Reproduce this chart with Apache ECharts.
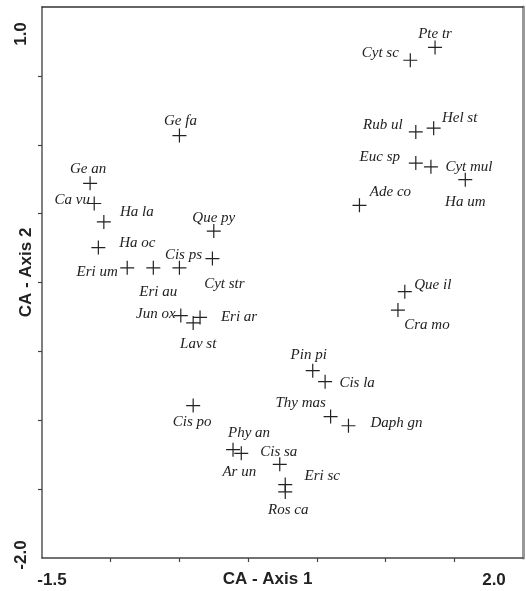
<!DOCTYPE html>
<html>
<head>
<meta charset="utf-8">
<script src="https://cdn.jsdelivr.net/npm/echarts@6/dist/echarts.min.js"></script>
<style>
html,body{margin:0;padding:0;background:#fff;}
#chart{width:526px;height:591px;}
</style>
</head>
<body>
<div id="chart"></div>
<script>
// Species labels
const names = ["Ge fa","Ge an","Ca vu","Ha la","Ha oc","Eri um","Eri au","Cis ps","Cyt str","Que py",
  "Jun ox","Eri ar","Lav st","Cis po","Phy an","Ar un","Cis sa","Eri sc","Ros ca","Pin pi",
  "Cis la","Thy mas","Daph gn","Cra mo","Que il","Ade co","Euc sp","Cyt mul","Ha um","Rub ul",
  "Hel st","Cyt sc","Pte tr"];
// CA axis 1 scores
const axis1 = [-0.50,-1.15,-1.12,-1.05,-1.09,-0.88,-0.69,-0.50,-0.26,-0.25,
  -0.49,-0.35,-0.40,-0.40,-0.11,-0.05,0.23,0.27,0.27,0.47,
  0.56,0.60,0.73,1.09,1.14,0.81,1.22,1.33,1.58,1.22,
  1.35,1.18,1.36];
// CA axis 2 scores
const axis2 = [0.30,0.04,-0.07,-0.17,-0.31,-0.42,-0.42,-0.42,-0.37,-0.22,
  -0.68,-0.69,-0.72,-1.17,-1.41,-1.43,-1.49,-1.60,-1.64,-0.98,
  -1.04,-1.23,-1.28,-0.65,-0.55,-0.08,0.15,0.13,0.06,0.32,
  0.34,0.71,0.78];
// Axis ranges, ticks and tick labels
const xRange = [-1.5, 2.0];
const yRange = [-2.0, 1.0];
const xTicks = [-1.0,-0.5,0,0.5,1.0,1.5];
const yTicks = [-1.625,-1.25,-0.875,-0.5,-0.125,0.25,0.625];
const xTickLabels = [-1.5, 2.0];
const yTickLabels = [-2.0, 1.0];

// label offsets (style only): label centre relative to marker centre, in px
const labelOffsets = [[1,-15],[-2,-14],[-22,-3],[33,-10],[39,-5],[-30,4],[5,24],[4,-13],[12,25],[0,-13],
  [-25,-1],[39,0],[5,21],[-1,17],[16,-17],[-2,19],[-1,-12],[37,-8],[3,18],[-4,-16],
  [32,1],[-30,-14],[48,-3],[29,15],[28,-7],[31,-13],[-36,-6],[38,0],[0,22],[-33,-7],
  [26,-10],[-30,-7],[0,-13]];

const data = names.map((n,i)=>({
  name:n, value:[axis1[i], axis2[i]],
  label:{offset: labelOffsets[i]}
}));

const chart = echarts.init(document.getElementById('chart'), null, {renderer:'canvas'});
const axisFont = {fontFamily:'Liberation Sans, Arial, sans-serif', fontWeight:'bold', fontSize:17, color:'#222'};
chart.setOption({
  animation:false,
  backgroundColor:'#fff',
  grid:{left:42, top:7, right:3, bottom:33, containLabel:false, outerBoundsMode:'none'},
  xAxis:[{
    type:'value', min:xRange[0], max:xRange[1], position:'bottom',
    name:'CA - Axis 1', nameLocation:'middle', nameGap:13, nameMoveOverlap:false,
    nameTextStyle:Object.assign({}, axisFont, {padding:[0,30,0,0]}),
    axisLine:{show:true, onZero:false, lineStyle:{color:'#444', width:1.5}},
    axisTick:{show:true, customValues:xTicks, length:4, lineStyle:{color:'#444', width:1.2}},
    axisLabel:{show:true, customValues:xTickLabels, margin:14,
      formatter:v=> v===xTickLabels[0] ? '{a|'+v.toFixed(1)+'}' : '{b|'+v.toFixed(1)+'}',
      rich:{a:Object.assign({}, axisFont, {padding:[0,0,0,20]}), b:Object.assign({}, axisFont, {padding:[0,58,0,0]})}},
    splitLine:{show:false}
  },{
    type:'value', min:xRange[0], max:xRange[1], position:'top',
    axisLine:{show:true, onZero:false, lineStyle:{color:'#333', width:1.5}},
    axisTick:{show:false}, axisLabel:{show:false}, splitLine:{show:false}
  }],
  yAxis:[{
    type:'value', min:yRange[0], max:yRange[1], position:'left',
    name:'CA - Axis 2', nameLocation:'middle', nameGap:7, nameRotate:90, nameMoveOverlap:false,
    nameTextStyle:Object.assign({}, axisFont, {padding:[0,0,0,20]}),
    axisLine:{show:true, onZero:false, lineStyle:{color:'#555', width:1.5}},
    axisTick:{show:true, customValues:yTicks, length:4, lineStyle:{color:'#444', width:1.2}},
    axisLabel:{show:true, customValues:yTickLabels, rotate:90, margin:12,
      formatter:v=> v===yTickLabels[0] ? '{a|'+v.toFixed(1)+'}' : '{b|'+v.toFixed(1)+'}',
      rich:{a:Object.assign({}, axisFont, {padding:[0,0,0,6]}), b:Object.assign({}, axisFont, {padding:[0,54,0,0]})}},
    splitLine:{show:false}
  },{
    type:'value', min:yRange[0], max:yRange[1], position:'right',
    axisLine:{show:true, onZero:false, lineStyle:{color:'#999', width:3}},
    axisTick:{show:false}, axisLabel:{show:false}, splitLine:{show:false}
  }],
  series:[{
    type:'scatter',
    symbol:'path://M0,7 L14,7 M7,0 L7,14',
    symbolSize:14,
    itemStyle:{color:'rgba(0,0,0,0)', borderColor:'#222', borderWidth:1.2, opacity:1},
    label:{show:true, position:'inside', formatter:'{b}', color:'#222',
      fontFamily:'Liberation Serif, Times New Roman, serif', fontStyle:'italic', fontSize:15,
      textBorderWidth:0},
    emphasis:{disabled:true},
    data:data
  }]
});
</script>
</body>
</html>
